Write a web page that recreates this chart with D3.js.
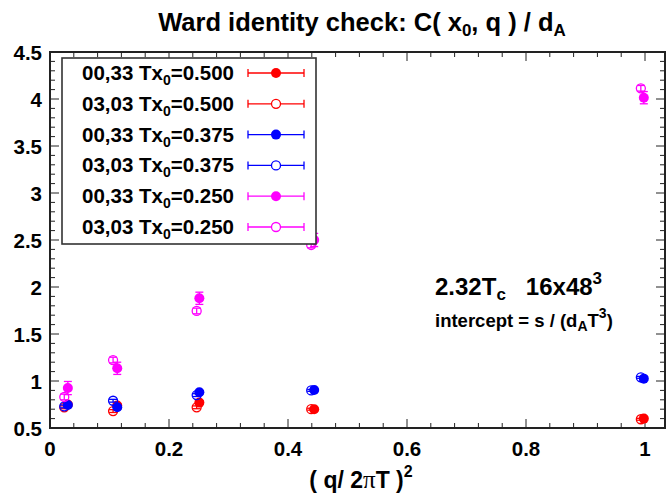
<!DOCTYPE html>
<html><head><meta charset="utf-8">
<script src="https://cdn.jsdelivr.net/npm/d3@7"></script>
<style>body{margin:0;background:#fff}svg{display:block}text{font-family:"Liberation Sans",Arial,Helvetica,sans-serif;font-weight:bold;fill:#000}</style>
</head><body><svg id="c" width="672" height="496"></svg>
<script>
const seriesNames = ["00,33 Tx0=0.500","03,03 Tx0=0.500","00,33 Tx0=0.375","03,03 Tx0=0.375","00,33 Tx0=0.250","03,03 Tx0=0.250"];
const seriesLabelA = ["00,33","03,03","00,33","03,03","00,33","03,03"];
const seriesLabelB = ["0.500","0.500","0.375","0.375","0.250","0.250"];
const seriesColors = ["#ff0000","#ff0000","#0000ff","#0000ff","#ff00ff","#ff00ff"];
const seriesFilled = [true,false,true,false,true,false];
const xFilled = [0.030, 0.113, 0.251, 0.444, 0.998];
const xOpen   = [0.024, 0.106, 0.2465, 0.439, 0.993];
const y_00_33_500 = [0.75, 0.74, 0.77, 0.70, 0.600];
const e_00_33_500 = [0.02, 0.02, 0.02, 0.015, 0.015];
const y_03_03_500 = [0.72, 0.68, 0.72, 0.70, 0.593];
const e_03_03_500 = [0.015, 0.015, 0.015, 0.01, 0.01];
const y_00_33_375 = [0.745, 0.72, 0.88, 0.905, 1.025];
const e_00_33_375 = [0.015, 0.02, 0.015, 0.015, 0.015];
const y_03_03_375 = [0.73, 0.79, 0.85, 0.90, 1.039];
const e_03_03_375 = [0.015, 0.015, 0.015, 0.01, 0.01];
const y_00_33_250 = [0.925, 1.135, 1.88, 2.50, 4.014];
const e_00_33_250 = [0.07, 0.065, 0.065, 0.07, 0.065];
const y_03_03_250 = [0.83, 1.223, 1.745, 2.447, 4.114];
const e_03_03_250 = [0.03, 0.03, 0.03, 0.03, 0.03];
const seriesY = [y_00_33_500,y_03_03_500,y_00_33_375,y_03_03_375,y_00_33_250,y_03_03_250];
const seriesE = [e_00_33_500,e_03_03_500,e_00_33_375,e_03_03_375,e_00_33_250,e_03_03_250];
const xTicks = [0,0.2,0.4,0.6,0.8,1];
const xTickLabels = ["0","0.2","0.4","0.6","0.8","1"];
const yTicks = [0.5,1,1.5,2,2.5,3,3.5,4,4.5];
const yTickLabels = ["0.5","1","1.5","2","2.5","3","3.5","4","4.5"];

const svg = d3.select("#c");
const L=50,R=665,T=52,B=428;
const x = d3.scaleLinear().domain([0,1.0336]).range([L,R]);
const y = d3.scaleLinear().domain([0.5,4.5]).range([B,T]);
const axisCol="#222";

const xMinor = d3.range(0,1.04,0.04).filter(v=>!xTicks.some(t=>Math.abs(t-v)<1e-6));
const yMinor = d3.range(0.5,4.51,0.1).filter(v=>!yTicks.some(t=>Math.abs(t-v)<1e-6));
const tk = svg.append("g").attr("stroke",axisCol).attr("stroke-width",1);
function vt(v,len){tk.append("line").attr("x1",x(v)).attr("x2",x(v)).attr("y1",B).attr("y2",B-len);
  tk.append("line").attr("x1",x(v)).attr("x2",x(v)).attr("y1",T).attr("y2",T+len);}
function ht(v,len){tk.append("line").attr("y1",y(v)).attr("y2",y(v)).attr("x1",L).attr("x2",L+len);
  tk.append("line").attr("y1",y(v)).attr("y2",y(v)).attr("x1",R).attr("x2",R-len);}
xTicks.forEach(v=>vt(v,9)); xMinor.forEach(v=>vt(v,5));
yTicks.forEach(v=>ht(v,9)); yMinor.forEach(v=>ht(v,5));

svg.append("rect").attr("x",L).attr("y",T).attr("width",R-L).attr("height",B-T)
  .attr("fill","none").attr("stroke",axisCol).attr("stroke-width",2);

svg.append("g").selectAll("text").data(xTicks).join("text")
  .attr("x",d=>x(d)).attr("y",456).attr("text-anchor","middle").attr("font-size",20.5)
  .text((d,i)=>xTickLabels[i]);
svg.append("g").selectAll("text").data(yTicks).join("text")
  .attr("x",42).attr("y",d=>y(d)+7.5).attr("text-anchor","end").attr("font-size",20.5)
  .text((d,i)=>yTickLabels[i]);

const title = svg.append("text").attr("x",362).attr("y",31).attr("text-anchor","middle").attr("font-size",25.5);
title.append("tspan").text("Ward identity check: C( x");
title.append("tspan").attr("font-size",17).attr("dy",5).text("0");
title.append("tspan").attr("dy",-5).text(", q ) / d");
title.append("tspan").attr("font-size",17).attr("dy",5).text("A");

const xl = svg.append("text").attr("x",361).attr("y",488).attr("text-anchor","middle").attr("font-size",23);
xl.append("tspan").text("( q/ 2");
xl.append("tspan").attr("font-family","Liberation Serif, serif").attr("font-weight","normal").attr("font-size",25).text("π");
xl.append("tspan").text("T )");
xl.append("tspan").attr("font-size",16).attr("dy",-11).text("2");

const a1 = svg.append("text").attr("x",435).attr("y",295).attr("font-size",24);
a1.append("tspan").text("2.32T");
a1.append("tspan").attr("font-size",17).attr("dy",5).text("c");
a1.append("tspan").attr("dy",-5).attr("dx",20).text("16x48");
a1.append("tspan").attr("font-size",17).attr("dy",-11).text("3");
const a2 = svg.append("text").attr("x",435).attr("y",327).attr("font-size",18.5);
a2.append("tspan").text("intercept = s / (d");
a2.append("tspan").attr("font-size",14).attr("dy",4).text("A");
a2.append("tspan").attr("dy",-4).text("T");
a2.append("tspan").attr("font-size",14).attr("dy",-9).text("3");
a2.append("tspan").attr("dy",9).text(")");

const cap=4, r=5;
function drawPoint(g, cx, cy, yl, yh, col, filled){
  g.append("line").attr("x1",cx).attr("x2",cx).attr("y1",yl).attr("y2",yh).attr("stroke",col).attr("stroke-width",1.3);
  g.append("line").attr("x1",cx-cap).attr("x2",cx+cap).attr("y1",yl).attr("y2",yl).attr("stroke",col).attr("stroke-width",1.3);
  g.append("line").attr("x1",cx-cap).attr("x2",cx+cap).attr("y1",yh).attr("y2",yh).attr("stroke",col).attr("stroke-width",1.3);
  g.append("circle").attr("cx",cx).attr("cy",cy).attr("r",filled?r:r-0.5)
    .attr("fill",filled?col:"none").attr("stroke",col).attr("stroke-width",filled?0:1.3);
}
seriesNames.forEach((nm,s)=>{
  const g = svg.append("g");
  const xs = seriesFilled[s]?xFilled:xOpen;
  seriesY[s].forEach((v,i)=>{
    const e=seriesE[s][i];
    drawPoint(g, x(xs[i]), y(v), y(v-e), y(v+e), seriesColors[s], seriesFilled[s]);
  });
});

const lg = svg.append("g");
lg.append("rect").attr("x",62).attr("y",58).attr("width",254).attr("height",186)
  .attr("fill","#fff").attr("stroke","#333").attr("stroke-width",1.6);
seriesNames.forEach((nm,s)=>{
  const by = 80 + s*30.8, cy = by-7, col=seriesColors[s];
  const t = lg.append("text").attr("x",234).attr("y",by).attr("text-anchor","end").attr("font-size",20.5);
  t.append("tspan").text(seriesLabelA[s]+" Tx");
  t.append("tspan").attr("font-size",14).attr("dy",5).text("0");
  t.append("tspan").attr("dy",-5).text("="+seriesLabelB[s]);
  lg.append("line").attr("x1",248).attr("x2",304).attr("y1",cy).attr("y2",cy).attr("stroke",col).attr("stroke-width",1.3);
  lg.append("line").attr("x1",248).attr("x2",248).attr("y1",cy-4).attr("y2",cy+4).attr("stroke",col).attr("stroke-width",1.3);
  lg.append("line").attr("x1",304).attr("x2",304).attr("y1",cy-4).attr("y2",cy+4).attr("stroke",col).attr("stroke-width",1.3);
  lg.append("circle").attr("cx",276).attr("cy",cy).attr("r",seriesFilled[s]?5:4.5)
    .attr("fill",seriesFilled[s]?col:"#fff").attr("stroke",col).attr("stroke-width",seriesFilled[s]?0:1.3);
});
</script></body></html>
